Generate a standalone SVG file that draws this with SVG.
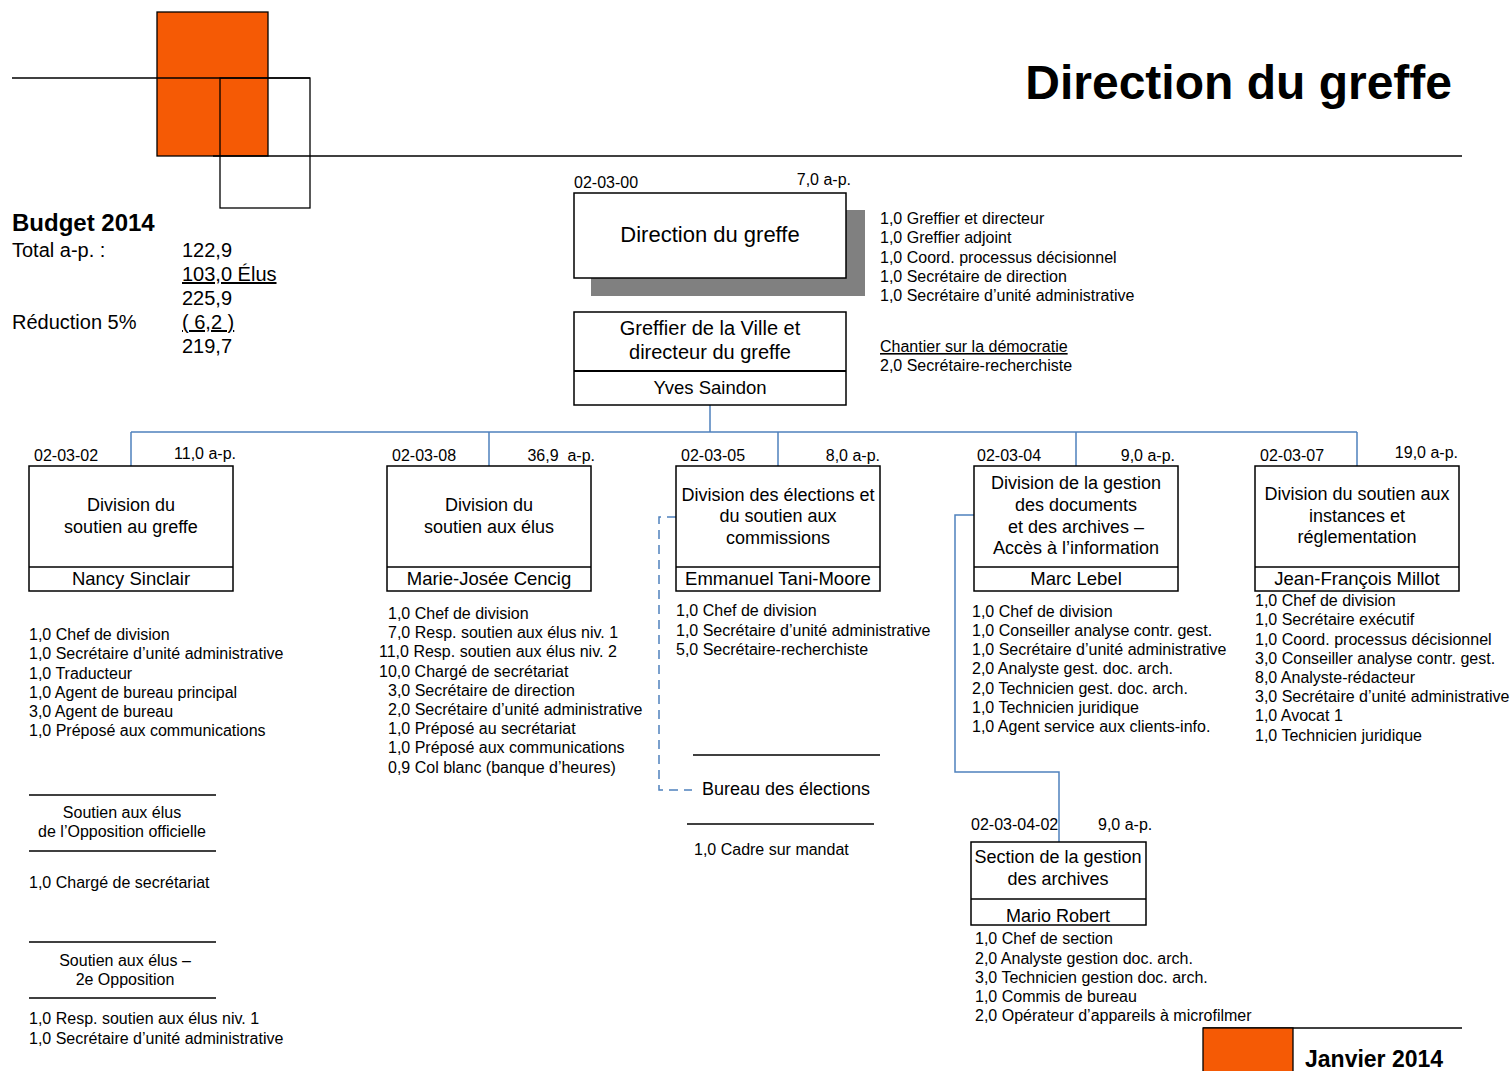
<svg xmlns="http://www.w3.org/2000/svg" width="1512" height="1071" viewBox="0 0 1512 1071">
<style>
text{font-family:"Liberation Sans",Arial,sans-serif;fill:#000}
.s{font-size:16px}
.m{font-size:20px}
.t{font-size:18px;text-anchor:middle}
.b{font-size:18.5px;text-anchor:middle}
.c{text-anchor:middle}
.e{text-anchor:end}
.box{fill:#fff;stroke:#000;stroke-width:1.5}
.ln{stroke:#000;stroke-width:1.3;fill:none}
.con{stroke:#4F81BD;stroke-width:1.5;fill:none}
.dash{stroke:#4F81BD;stroke-width:1.5;fill:none;stroke-dasharray:9,6}
.org{fill:#F55A05;stroke:#000;stroke-width:1.3}
</style>
<rect width="1512" height="1071" fill="#fff"/>
<g id="logo">
<rect class="org" x="157" y="12" width="111" height="144"/>
<line class="ln" x1="12" y1="78" x2="310" y2="78"/>
<rect class="ln" x="220" y="78" width="90" height="130"/>
<line class="ln" x1="213" y1="156" x2="1462" y2="156"/>
</g>
<text x="1452" y="99" class="e" style="font-size:48px;font-weight:bold">Direction du greffe</text>
<g id="budget">
<text x="12" y="231" style="font-size:24px;font-weight:bold">Budget 2014</text>
<text x="12" y="257" class="m">Total a-p. :</text>
<text x="182" y="257" class="m">122,9</text>
<text x="182" y="281" class="m" text-decoration="underline">103,0 Élus</text>
<text x="182" y="305" class="m">225,9</text>
<text x="12" y="329" class="m">Réduction 5%</text>
<text x="182" y="329" class="m" text-decoration="underline">( 6,2 )</text>
<text x="182" y="353" class="m">219,7</text>
</g>
<g id="connectors">
<path class="con" d="M710 405V432M131 432H1357M131 432V466M489 432V466M778 432V466M1076 432V466M1357 432V466"/>
<path class="dash" d="M676 517H659V790H692"/>
<path class="con" d="M974 515H955V772H1059V842"/>
</g>
<g id="n-direction">
<text x="574" y="188" class="s">02-03-00</text>
<text x="851" y="185" class="s e">7,0 a-p.</text>
<rect x="591" y="210" width="274" height="86" fill="#808080"/>
<rect class="box" x="574" y="193" width="272" height="85"/>
<text x="710" y="242" style="font-size:22px;text-anchor:middle">Direction du greffe</text>
</g>
<g id="n-direction-staff">
<text x="880" y="224" class="s">1,0 Greffier et directeur</text>
<text x="880" y="243" class="s">1,0 Greffier adjoint</text>
<text x="880" y="263" class="s">1,0 Coord. processus décisionnel</text>
<text x="880" y="282" class="s">1,0 Secrétaire de direction</text>
<text x="880" y="301" class="s">1,0 Secrétaire d’unité administrative</text>
<text x="880" y="352" class="s" text-decoration="underline">Chantier sur la démocratie</text>
<text x="880" y="371" class="s">2,0 Secrétaire-recherchiste</text>
</g>
<g id="n-greffier">
<rect class="box" x="574" y="312" width="272" height="93"/>
<line class="ln" x1="574" y1="371" x2="846" y2="371" style="stroke-width:2"/>
<text x="710" y="335" class="c" style="font-size:20px">Greffier de la Ville et</text>
<text x="710" y="359" class="c" style="font-size:20px">directeur du greffe</text>
<text x="710" y="394" class="b">Yves Saindon</text>
</g>
<g id="n-0302">
<text x="34" y="461" class="s">02-03-02</text>
<text x="236" y="459" class="s e">11,0 a-p.</text>
<rect class="box" x="29" y="466" width="204" height="125"/>
<line class="ln" x1="29" y1="567" x2="233" y2="567"/>
<text x="131" y="511" class="t">Division du</text>
<text x="131" y="533" class="t">soutien au greffe</text>
<text x="131" y="585" class="b">Nancy Sinclair</text>
<text x="29" y="640" class="s">1,0 Chef de division</text>
<text x="29" y="659" class="s">1,0 Secrétaire d’unité administrative</text>
<text x="29" y="679" class="s">1,0 Traducteur</text>
<text x="29" y="698" class="s">1,0 Agent de bureau principal</text>
<text x="29" y="717" class="s">3,0 Agent de bureau</text>
<text x="29" y="736" class="s">1,0 Préposé aux communications</text>
</g>
<g id="n-opposition">
<line class="ln" x1="29" y1="795" x2="216" y2="795"/>
<text x="122" y="818" class="s c">Soutien aux élus</text>
<text x="122" y="837" class="s c">de l’Opposition officielle</text>
<line class="ln" x1="29" y1="851" x2="216" y2="851"/>
<text x="29" y="888" class="s">1,0 Chargé de secrétariat</text>
<line class="ln" x1="29" y1="942" x2="216" y2="942"/>
<text x="125" y="966" class="s c">Soutien aux élus –</text>
<text x="125" y="985" class="s c">2e Opposition</text>
<line class="ln" x1="29" y1="998" x2="216" y2="998"/>
<text x="29" y="1024" class="s">1,0 Resp. soutien aux élus niv. 1</text>
<text x="29" y="1044" class="s">1,0 Secrétaire d’unité administrative</text>
</g>
<g id="n-0308">
<text x="392" y="461" class="s">02-03-08</text>
<text x="595" y="461" class="s e" style="white-space:pre">36,9  a-p.</text>
<rect class="box" x="387" y="466" width="204" height="125"/>
<line class="ln" x1="387" y1="567" x2="591" y2="567"/>
<text x="489" y="511" class="t">Division du</text>
<text x="489" y="533" class="t">soutien aux élus</text>
<text x="489" y="585" class="b">Marie-Josée Cencig</text>
<text x="388" y="619" class="s">1,0 Chef de division</text>
<text x="388" y="638" class="s">7,0 Resp. soutien aux élus niv. 1</text>
<text x="379" y="657" class="s">11,0 Resp. soutien aux élus niv. 2</text>
<text x="379" y="677" class="s">10,0 Chargé de secrétariat</text>
<text x="388" y="696" class="s">3,0 Secrétaire de direction</text>
<text x="388" y="715" class="s">2,0 Secrétaire d’unité administrative</text>
<text x="388" y="734" class="s">1,0 Préposé au secrétariat</text>
<text x="388" y="753" class="s">1,0 Préposé aux communications</text>
<text x="388" y="773" class="s">0,9 Col blanc (banque d’heures)</text>
</g>
<g id="n-0305">
<text x="681" y="461" class="s">02-03-05</text>
<text x="880" y="461" class="s e">8,0 a-p.</text>
<rect class="box" x="676" y="466" width="204" height="125"/>
<line class="ln" x1="676" y1="567" x2="880" y2="567"/>
<text x="778" y="501" class="t">Division des élections et</text>
<text x="778" y="522" class="t">du soutien aux</text>
<text x="778" y="544" class="t">commissions</text>
<text x="778" y="585" class="b">Emmanuel Tani-Moore</text>
<text x="676" y="616" class="s">1,0 Chef de division</text>
<text x="676" y="636" class="s">1,0 Secrétaire d’unité administrative</text>
<text x="676" y="655" class="s">5,0 Secrétaire-recherchiste</text>
</g>
<g id="n-bureau">
<line class="ln" x1="693" y1="755" x2="880" y2="755"/>
<text x="702" y="795" style="font-size:18px">Bureau des élections</text>
<line class="ln" x1="687" y1="824" x2="874" y2="824"/>
<text x="694" y="855" class="s">1,0 Cadre sur mandat</text>
</g>
<g id="n-0304">
<text x="977" y="461" class="s">02-03-04</text>
<text x="1175" y="461" class="s e">9,0 a-p.</text>
<rect class="box" x="974" y="466" width="204" height="125"/>
<line class="ln" x1="974" y1="567" x2="1178" y2="567"/>
<text x="1076" y="489" class="t">Division de la gestion</text>
<text x="1076" y="511" class="t">des documents</text>
<text x="1076" y="533" class="t">et des archives –</text>
<text x="1076" y="554" class="t">Accès à l’information</text>
<text x="1076" y="585" class="b">Marc Lebel</text>
<text x="972" y="617" class="s">1,0 Chef de division</text>
<text x="972" y="636" class="s">1,0 Conseiller analyse contr. gest.</text>
<text x="972" y="655" class="s">1,0 Secrétaire d’unité administrative</text>
<text x="972" y="674" class="s">2,0 Analyste gest. doc. arch.</text>
<text x="972" y="694" class="s">2,0 Technicien gest. doc. arch.</text>
<text x="972" y="713" class="s">1,0 Technicien juridique</text>
<text x="972" y="732" class="s">1,0 Agent service aux clients-info.</text>
</g>
<g id="n-030402">
<text x="971" y="830" class="s">02-03-04-02</text>
<text x="1098" y="830" class="s">9,0 a-p.</text>
<rect class="box" x="971" y="842" width="175" height="83"/>
<line class="ln" x1="971" y1="899" x2="1146" y2="899"/>
<text x="1058" y="863" class="t">Section de la gestion</text>
<text x="1058" y="885" class="t">des archives</text>
<text x="1058" y="922" class="t">Mario Robert</text>
<text x="975" y="944" class="s">1,0 Chef de section</text>
<text x="975" y="964" class="s">2,0 Analyste gestion doc. arch.</text>
<text x="975" y="983" class="s">3,0 Technicien gestion doc. arch.</text>
<text x="975" y="1002" class="s">1,0 Commis de bureau</text>
<text x="975" y="1021" class="s">2,0 Opérateur d’appareils à microfilmer</text>
</g>
<g id="n-0307">
<text x="1260" y="461" class="s">02-03-07</text>
<text x="1458" y="458" class="s e">19,0 a-p.</text>
<rect class="box" x="1255" y="466" width="204" height="125"/>
<line class="ln" x1="1255" y1="567" x2="1459" y2="567"/>
<text x="1357" y="500" class="t">Division du soutien aux</text>
<text x="1357" y="522" class="t">instances et</text>
<text x="1357" y="543" class="t">réglementation</text>
<text x="1357" y="585" class="b">Jean-François Millot</text>
<text x="1255" y="606" class="s">1,0 Chef de division</text>
<text x="1255" y="625" class="s">1,0 Secrétaire exécutif</text>
<text x="1255" y="645" class="s">1,0 Coord. processus décisionnel</text>
<text x="1255" y="664" class="s">3,0 Conseiller analyse contr. gest.</text>
<text x="1255" y="683" class="s">8,0 Analyste-rédacteur</text>
<text x="1255" y="702" class="s">3,0 Secrétaire d’unité administrative</text>
<text x="1255" y="721" class="s">1,0 Avocat 1</text>
<text x="1255" y="741" class="s">1,0 Technicien juridique</text>
</g>
<g id="footer">
<line class="ln" x1="1203" y1="1028" x2="1462" y2="1028"/>
<rect class="org" x="1203" y="1028" width="90" height="50"/>
<text x="1305" y="1067" style="font-size:23px;font-weight:bold">Janvier 2014</text>
</g>
</svg>
